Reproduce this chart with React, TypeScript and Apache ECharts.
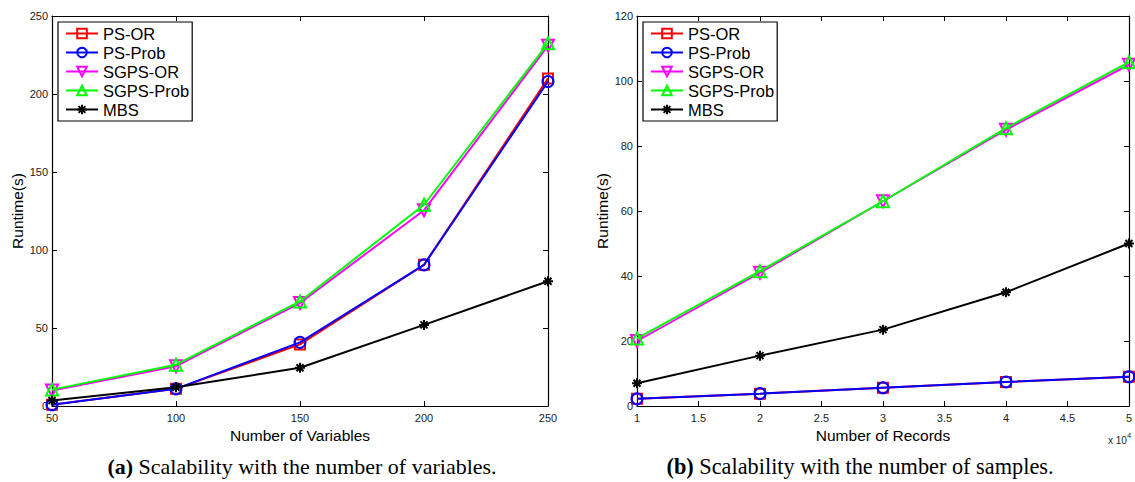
import React, { useEffect, useRef } from "react";
import * as echarts from "echarts";

// ---- Data ----
const seriesNames = ["PS-OR", "PS-Prob", "SGPS-OR", "SGPS-Prob", "MBS"];

// (a) Number of variables
const xVariables = [50, 100, 150, 200, 250];
const psOrA = [0.8, 11, 39.5, 90.5, 210];
const psProbA = [0.8, 11, 40.8, 90.5, 208];
const sgpsOrA = [10, 25.5, 66, 125.5, 231];
const sgpsProbA = [10.5, 26.5, 67, 129, 232.5];
const mbsA = [3.5, 12, 24.5, 52, 80];

// (b) Number of records (x 10^4)
const xRecords = [1, 2, 3, 4, 5];
const psOrB = [2.2, 3.8, 5.6, 7.4, 9];
const psProbB = [2.2, 3.8, 5.6, 7.4, 9];
const sgpsOrB = [20, 41, 63, 85, 105];
const sgpsProbB = [20.8, 41.5, 63, 85.5, 105.8];
const mbsB = [7, 15.5, 23.5, 35, 50];

const captionA = "Scalability with the number of variables.";
const captionB = "Scalability with the number of samples.";

const FONT = "'Liberation Sans', Arial, Helvetica, sans-serif";
const SERIF = "'Liberation Serif', 'Times New Roman', serif";

const styles = [
  { color: "#ff0000", symbol: "rect", rotate: 0, size: 10 },
  { color: "#0000ff", symbol: "circle", rotate: 0, size: 11 },
  { color: "#ff00ff", symbol: "triangle", rotate: 180, size: 12 },
  { color: "#00ff00", symbol: "triangle", rotate: 0, size: 12 },
  {
    color: "#000000",
    symbol: "path://M5,0 L5,10 M0,5 L10,5 M1.5,1.5 L8.5,8.5 M8.5,1.5 L1.5,8.5",
    rotate: 0,
    size: 10,
  },
];

function makeSeries(xs: number[], ys: number[][], axisIdx: number) {
  return ys.map((vals, i) => ({
    type: "line",
    name: seriesNames[i],
    xAxisIndex: axisIdx,
    yAxisIndex: axisIdx,
    data: xs.map((x, j) => [x, vals[j]]),
    symbol: styles[i].symbol,
    symbolRotate: styles[i].rotate,
    symbolSize: styles[i].size,
    showAllSymbol: true,
    lineStyle: { color: styles[i].color, width: 2 },
    itemStyle: {
      color: "rgba(255,255,255,0)",
      borderColor: styles[i].color,
      borderWidth: 2,
    },
    emphasis: { disabled: true },
    z: 2 + i,
  }));
}

function axisBase(min: number, max: number, interval: number) {
  return {
    type: "value",
    min,
    max,
    interval,
    axisLine: { show: true, onZero: false, lineStyle: { color: "#000", width: 1.2 } },
    axisTick: { show: true, inside: true, length: 5, lineStyle: { color: "#000", width: 1 } },
    splitLine: { show: false },
  };
}

function visibleX(grid: number, min: number, max: number, interval: number, name: string) {
  return {
    ...axisBase(min, max, interval),
    gridIndex: grid,
    position: "bottom",
    name,
    nameLocation: "middle",
    nameGap: 19,
    nameTextStyle: { fontFamily: FONT, fontSize: 15.5, color: "#000" },
    axisLabel: { fontFamily: FONT, fontSize: 11, color: "#222", margin: 6 },
  };
}
function hiddenX(grid: number, min: number, max: number, interval: number) {
  return {
    ...axisBase(min, max, interval),
    gridIndex: grid,
    position: "top",
    axisLabel: { show: false },
  };
}
function visibleY(grid: number, min: number, max: number, interval: number) {
  return {
    ...axisBase(min, max, interval),
    gridIndex: grid,
    position: "left",
    name: "Runtime(s)",
    nameLocation: "middle",
    nameGap: 27,
    nameTextStyle: { fontFamily: FONT, fontSize: 15.5, color: "#000" },
    axisLabel: { fontFamily: FONT, fontSize: 11, color: "#222", margin: 4 },
  };
}
function hiddenY(grid: number, min: number, max: number, interval: number) {
  return {
    ...axisBase(min, max, interval),
    gridIndex: grid,
    position: "right",
    axisLabel: { show: false },
  };
}

const legendText = { fontFamily: FONT, fontSize: 16.5, color: "#000", lineHeight: 15 };

function legendAt(left: number) {
  return {
    show: true,
    data: seriesNames.map((n) => ({ name: n, textStyle: legendText })),
    orient: "vertical",
    left,
    top: 22,
    selectedMode: false,
    backgroundColor: "#fff",
    borderColor: "#000",
    borderWidth: 1.2,
    borderRadius: 0,
    padding: [3, 3, 3, 7],
    itemWidth: 32,
    itemHeight: 12,
    itemGap: 2,
    textStyle: legendText,
  };
}

export default function App() {
  const ref = useRef<HTMLDivElement>(null);
  useEffect(() => {
    if (!ref.current) return;
    const chart = echarts.init(ref.current, undefined, { renderer: "svg" });
    const captionStyle = (label: string, text: string, size: number) => ({
      text: "{b|" + label + "} " + text,
      align: "center",
      verticalAlign: "middle",
      fontFamily: SERIF,
      fontSize: size,
      fill: "#000",
      rich: { b: { fontFamily: SERIF, fontSize: size, fontWeight: "bold", fill: "#000" } },
    });
    const option = {
      animation: false,
      backgroundColor: "#fff",
      grid: [
        { left: 52, top: 16, width: 496, height: 390 },
        { left: 637, top: 16, width: 496, height: 390 },
      ],
      xAxis: [
        visibleX(0, 50, 250, 50, "Number of Variables"),
        visibleX(1, 1, 5, 0.5, "Number of Records"),
        hiddenX(0, 50, 250, 50),
        hiddenX(1, 1, 5, 0.5),
      ],
      yAxis: [
        visibleY(0, 0, 250, 50),
        visibleY(1, 0, 120, 20),
        hiddenY(0, 0, 250, 50),
        hiddenY(1, 0, 120, 20),
      ],
      legend: [legendAt(58), legendAt(643)],
      series: [
        ...makeSeries(xVariables, [psOrA, psProbA, sgpsOrA, sgpsProbA, mbsA], 0),
        ...makeSeries(xRecords, [psOrB, psProbB, sgpsOrB, sgpsProbB, mbsB], 1),
      ],
      graphic: [
        { type: "text", x: 302, y: 466, style: captionStyle("(a)", captionA, 22) },
        { type: "text", x: 860, y: 466, style: captionStyle("(b)", captionB, 22.3) },
        {
          type: "text",
          x: 1108,
          y: 430,
          style: {
            text: "{a|x 10}{s|4}",
            align: "left",
            verticalAlign: "top",
            rich: {
              a: { fontFamily: FONT, fontSize: 10, fill: "#222", padding: [5, 0, 0, 0] },
              s: { fontFamily: FONT, fontSize: 7.5, fill: "#222", padding: [0, 0, 5, 0] },
            },
          },
        },
      ],
    };
    chart.setOption(option as any);
    return () => chart.dispose();
  }, []);
  return (
    <div
      ref={ref}
      style={{ position: "fixed", left: 0, top: 0, width: 1135, height: 482, background: "#fff" }}
    />
  );
}
